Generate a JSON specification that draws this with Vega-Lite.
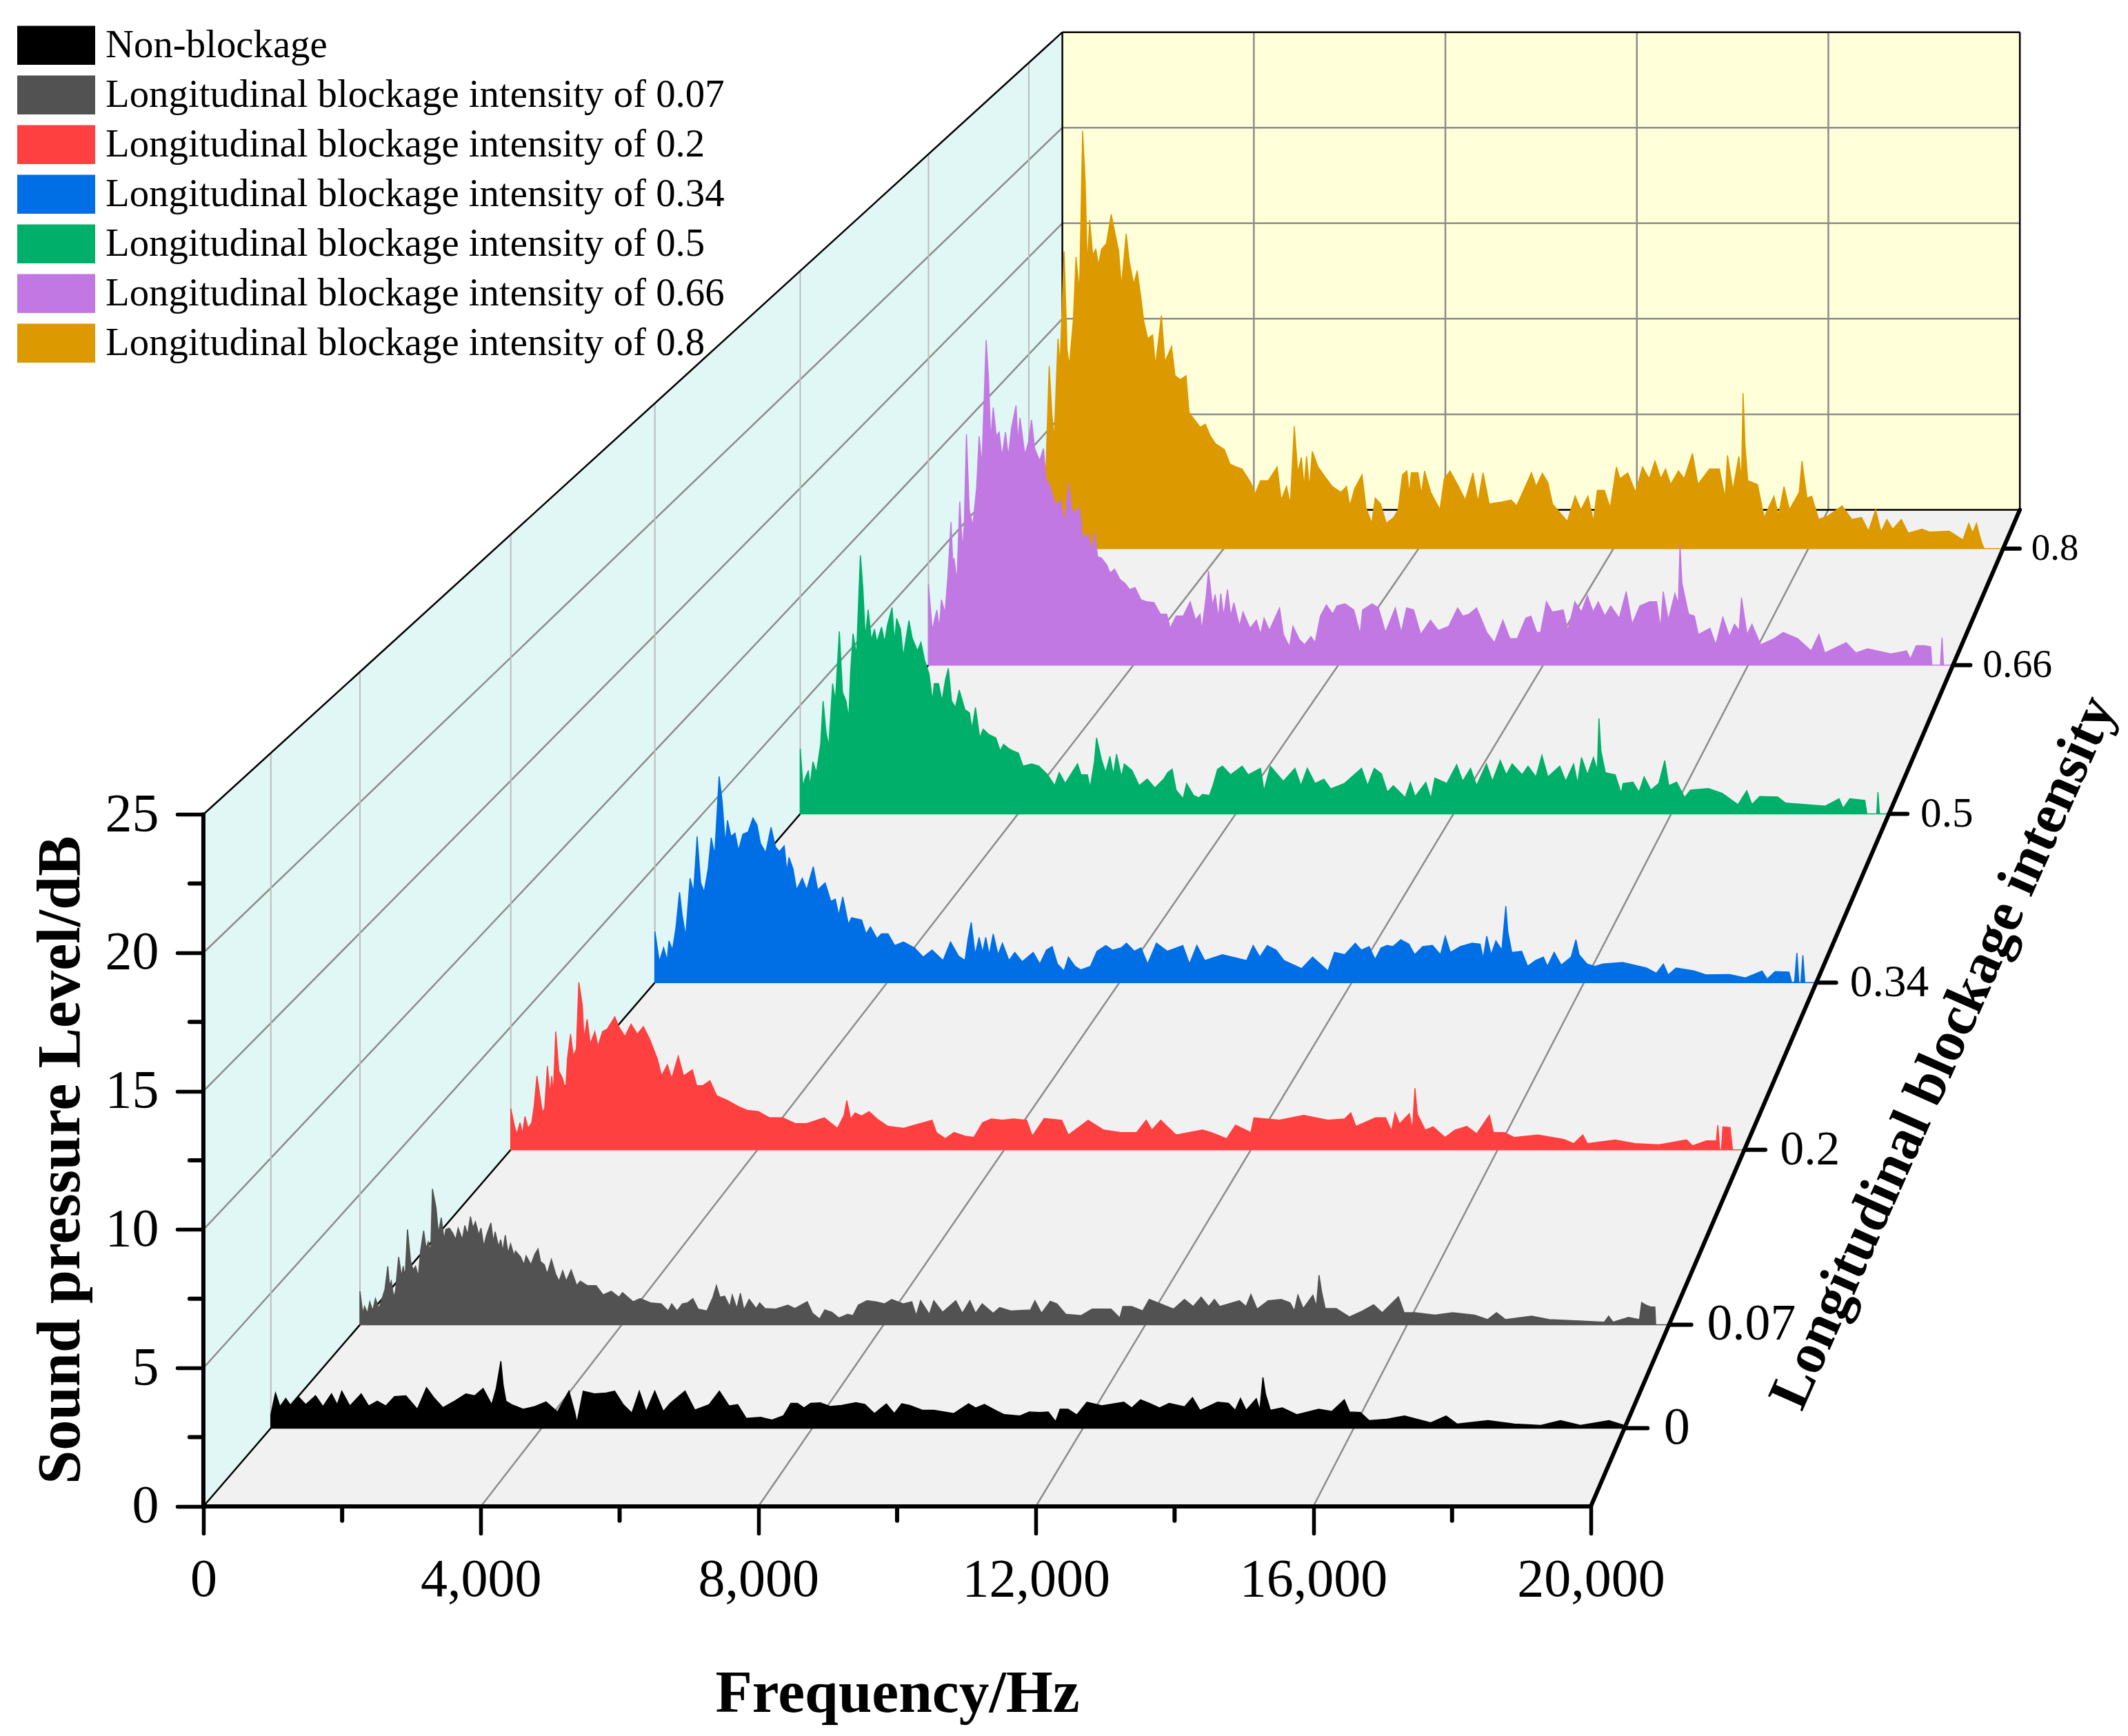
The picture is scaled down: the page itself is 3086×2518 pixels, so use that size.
{"$schema":"https://vega.github.io/schema/vega-lite/v6.json","width":3086,"height":2518,"padding":0,"autosize":{"type":"none"},"background":"white","config":{"font":"Liberation Serif","view":{"stroke":null}},
"datasets":{
"spectra":[
{"i":0.8,"f":0,"v":5},{"i":0.8,"f":40,"v":2},{"i":0.8,"f":90,"v":3.5},{"i":0.8,"f":150,"v":2.5},{"i":0.8,"f":210,"v":4},{"i":0.8,"f":280,"v":3},{"i":0.8,"f":354,"v":4.3},{"i":0.8,"f":417,"v":9.4},{"i":0.8,"f":471,"v":7},{"i":0.8,"f":520,"v":5.6},{"i":0.8,"f":598,"v":10.8},{"i":0.8,"f":640,"v":9.4},{"i":0.8,"f":724,"v":15.3},{"i":0.8,"f":786,"v":10.2},{"i":0.8,"f":830,"v":9.4},{"i":0.8,"f":914,"v":11.8},{"i":0.8,"f":968,"v":15},{"i":0.8,"f":1040,"v":13.2},{"i":0.8,"f":1104,"v":21.5},{"i":0.8,"f":1158,"v":18.8},{"i":0.8,"f":1200,"v":14.5},{"i":0.8,"f":1248,"v":16.9},{"i":0.8,"f":1311,"v":15.1},{"i":0.8,"f":1374,"v":15.4},{"i":0.8,"f":1430,"v":14.6},{"i":0.8,"f":1492,"v":15.4},{"i":0.8,"f":1592,"v":15.7},{"i":0.8,"f":1691,"v":17.2},{"i":0.8,"f":1754,"v":16.4},{"i":0.8,"f":1844,"v":15.3},{"i":0.8,"f":1900,"v":13.5},{"i":0.8,"f":1998,"v":16.2},{"i":0.8,"f":2061,"v":14.8},{"i":0.8,"f":2152,"v":13.6},{"i":0.8,"f":2224,"v":14.3},{"i":0.8,"f":2296,"v":13},{"i":0.8,"f":2359,"v":11.7},{"i":0.8,"f":2441,"v":10.8},{"i":0.8,"f":2540,"v":11},{"i":0.8,"f":2600,"v":9.4},{"i":0.8,"f":2721,"v":12},{"i":0.8,"f":2794,"v":9.6},{"i":0.8,"f":2929,"v":10.4},{"i":0.8,"f":3000,"v":8.9},{"i":0.8,"f":3109,"v":8.7},{"i":0.8,"f":3227,"v":8.9},{"i":0.8,"f":3289,"v":7},{"i":0.8,"f":3380,"v":6.7},{"i":0.8,"f":3516,"v":6.25},{"i":0.8,"f":3624,"v":6.4},{"i":0.8,"f":3724,"v":5.8},{"i":0.8,"f":3832,"v":5.4},{"i":0.8,"f":4013,"v":5.1},{"i":0.8,"f":4130,"v":4.35},{"i":0.8,"f":4266,"v":4.2},{"i":0.8,"f":4374,"v":4.1},{"i":0.8,"f":4554,"v":3.4},{"i":0.8,"f":4645,"v":2.8},{"i":0.8,"f":4754,"v":3.5},{"i":0.8,"f":4916,"v":3.5},{"i":0.8,"f":5097,"v":4.2},{"i":0.8,"f":5180,"v":2.5},{"i":0.8,"f":5290,"v":3.2},{"i":0.8,"f":5368,"v":2.3},{"i":0.8,"f":5449,"v":6.3},{"i":0.8,"f":5520,"v":3.9},{"i":0.8,"f":5594,"v":4.7},{"i":0.8,"f":5650,"v":3.2},{"i":0.8,"f":5702,"v":4.75},{"i":0.8,"f":5760,"v":3.1},{"i":0.8,"f":5819,"v":5},{"i":0.8,"f":5937,"v":4.2},{"i":0.8,"f":6108,"v":3.6},{"i":0.8,"f":6230,"v":3.2},{"i":0.8,"f":6406,"v":2.9},{"i":0.8,"f":6520,"v":3.2},{"i":0.8,"f":6590,"v":2.2},{"i":0.8,"f":6690,"v":3.1},{"i":0.8,"f":6840,"v":3.8},{"i":0.8,"f":6921,"v":2.1},{"i":0.8,"f":7039,"v":1.3},{"i":0.8,"f":7111,"v":2.6},{"i":0.8,"f":7219,"v":2.3},{"i":0.8,"f":7337,"v":1.3},{"i":0.8,"f":7490,"v":1.6},{"i":0.8,"f":7581,"v":2},{"i":0.8,"f":7671,"v":3.8},{"i":0.8,"f":7761,"v":4},{"i":0.8,"f":7810,"v":2.8},{"i":0.8,"f":7852,"v":3.9},{"i":0.8,"f":7987,"v":3.9},{"i":0.8,"f":8060,"v":2.8},{"i":0.8,"f":8123,"v":4},{"i":0.8,"f":8250,"v":2.9},{"i":0.8,"f":8439,"v":2},{"i":0.8,"f":8529,"v":3.6},{"i":0.8,"f":8647,"v":4},{"i":0.8,"f":8820,"v":3.2},{"i":0.8,"f":8960,"v":2.5},{"i":0.8,"f":9116,"v":3.9},{"i":0.8,"f":9220,"v":2.4},{"i":0.8,"f":9324,"v":3.9},{"i":0.8,"f":9450,"v":2.3},{"i":0.8,"f":9700,"v":2.4},{"i":0.8,"f":9900,"v":2.5},{"i":0.8,"f":10014,"v":2.2},{"i":0.8,"f":10318,"v":3.9},{"i":0.8,"f":10414,"v":3.2},{"i":0.8,"f":10542,"v":3.87},{"i":0.8,"f":10654,"v":3.4},{"i":0.8,"f":10750,"v":2.3},{"i":0.8,"f":11054,"v":1.4},{"i":0.8,"f":11214,"v":2.7},{"i":0.8,"f":11334,"v":2},{"i":0.8,"f":11478,"v":2.7},{"i":0.8,"f":11590,"v":1.4},{"i":0.8,"f":11670,"v":3},{"i":0.8,"f":11814,"v":3},{"i":0.8,"f":11934,"v":2.1},{"i":0.8,"f":12062,"v":4.2},{"i":0.8,"f":12134,"v":3.6},{"i":0.8,"f":12294,"v":3.9},{"i":0.8,"f":12454,"v":2.9},{"i":0.8,"f":12598,"v":4.2},{"i":0.8,"f":12734,"v":3.6},{"i":0.8,"f":12854,"v":4.5},{"i":0.8,"f":12974,"v":3.6},{"i":0.8,"f":13070,"v":4.1},{"i":0.8,"f":13174,"v":3.3},{"i":0.8,"f":13334,"v":4},{"i":0.8,"f":13454,"v":3.6},{"i":0.8,"f":13622,"v":4.9},{"i":0.8,"f":13734,"v":3.3},{"i":0.8,"f":13974,"v":4.1},{"i":0.8,"f":14174,"v":4.1},{"i":0.8,"f":14294,"v":2.6},{"i":0.8,"f":14342,"v":4.8},{"i":0.8,"f":14454,"v":3},{"i":0.8,"f":14574,"v":4.75},{"i":0.8,"f":14630,"v":3.6},{"i":0.8,"f":14662,"v":8},{"i":0.8,"f":14702,"v":5.3},{"i":0.8,"f":14758,"v":3.5},{"i":0.8,"f":14958,"v":3.3},{"i":0.8,"f":15094,"v":1.6},{"i":0.8,"f":15294,"v":2.7},{"i":0.8,"f":15390,"v":1.7},{"i":0.8,"f":15502,"v":3.2},{"i":0.8,"f":15614,"v":2},{"i":0.8,"f":15814,"v":2.9},{"i":0.8,"f":15870,"v":4.5},{"i":0.8,"f":15974,"v":2.6},{"i":0.8,"f":16070,"v":2.7},{"i":0.8,"f":16214,"v":1.5},{"i":0.8,"f":16414,"v":1.7},{"i":0.8,"f":16694,"v":2.2},{"i":0.8,"f":16894,"v":1.5},{"i":0.8,"f":17094,"v":1.6},{"i":0.8,"f":17238,"v":0.9},{"i":0.8,"f":17382,"v":2},{"i":0.8,"f":17494,"v":0.85},{"i":0.8,"f":17614,"v":1.5},{"i":0.8,"f":17734,"v":1},{"i":0.8,"f":17910,"v":1.5},{"i":0.8,"f":18054,"v":0.8},{"i":0.8,"f":18334,"v":1},{"i":0.8,"f":18494,"v":0.85},{"i":0.8,"f":18894,"v":0.9},{"i":0.8,"f":19174,"v":0.45},{"i":0.8,"f":19294,"v":1.3},{"i":0.8,"f":19374,"v":0.8},{"i":0.8,"f":19454,"v":1.3},{"i":0.8,"f":19518,"v":0.67},{"i":0.8,"f":19574,"v":0.2},{"i":0.8,"f":19614,"v":0},{"i":0.8,"f":20000,"v":0},
{"i":0.66,"f":0,"v":3.96},{"i":0.66,"f":75,"v":1.7},{"i":0.66,"f":117,"v":2.2},{"i":0.66,"f":165,"v":2.7},{"i":0.66,"f":213,"v":1.8},{"i":0.66,"f":254,"v":3.2},{"i":0.66,"f":323,"v":2.55},{"i":0.66,"f":378,"v":4.3},{"i":0.66,"f":440,"v":7},{"i":0.66,"f":474,"v":5.1},{"i":0.66,"f":500,"v":5.2},{"i":0.66,"f":556,"v":4.1},{"i":0.66,"f":611,"v":8},{"i":0.66,"f":666,"v":5.6},{"i":0.66,"f":700,"v":7},{"i":0.66,"f":742,"v":11.3},{"i":0.66,"f":797,"v":7.6},{"i":0.66,"f":865,"v":6.8},{"i":0.66,"f":941,"v":8.7},{"i":0.66,"f":989,"v":11.2},{"i":0.66,"f":1044,"v":9.8},{"i":0.66,"f":1126,"v":15.9},{"i":0.66,"f":1174,"v":14},{"i":0.66,"f":1216,"v":11},{"i":0.66,"f":1264,"v":12.6},{"i":0.66,"f":1325,"v":11.2},{"i":0.66,"f":1380,"v":11.4},{"i":0.66,"f":1435,"v":10.2},{"i":0.66,"f":1504,"v":11.4},{"i":0.66,"f":1559,"v":10.2},{"i":0.66,"f":1621,"v":11.6},{"i":0.66,"f":1710,"v":12.7},{"i":0.66,"f":1745,"v":10.9},{"i":0.66,"f":1786,"v":12.1},{"i":0.66,"f":1882,"v":10.3},{"i":0.66,"f":1951,"v":10.9},{"i":0.66,"f":2012,"v":12},{"i":0.66,"f":2074,"v":10.6},{"i":0.66,"f":2170,"v":10},{"i":0.66,"f":2246,"v":10.6},{"i":0.66,"f":2294,"v":9.1},{"i":0.66,"f":2383,"v":8.7},{"i":0.66,"f":2479,"v":7.8},{"i":0.66,"f":2569,"v":8.1},{"i":0.66,"f":2657,"v":7},{"i":0.66,"f":2740,"v":8.9},{"i":0.66,"f":2809,"v":7.4},{"i":0.66,"f":2946,"v":7.7},{"i":0.66,"f":3015,"v":6.2},{"i":0.66,"f":3118,"v":6.4},{"i":0.66,"f":3187,"v":5.6},{"i":0.66,"f":3242,"v":6.5},{"i":0.66,"f":3304,"v":5.3},{"i":0.66,"f":3372,"v":5.25},{"i":0.66,"f":3482,"v":4.9},{"i":0.66,"f":3545,"v":4.5},{"i":0.66,"f":3633,"v":4.7},{"i":0.66,"f":3737,"v":4.2},{"i":0.66,"f":3839,"v":4},{"i":0.66,"f":3929,"v":3.7},{"i":0.66,"f":4032,"v":3.8},{"i":0.66,"f":4148,"v":3.2},{"i":0.66,"f":4265,"v":3.1},{"i":0.66,"f":4402,"v":3.06},{"i":0.66,"f":4526,"v":2.5},{"i":0.66,"f":4650,"v":2.5},{"i":0.66,"f":4718,"v":1.8},{"i":0.66,"f":4835,"v":2.4},{"i":0.66,"f":4973,"v":2.4},{"i":0.66,"f":5110,"v":3.1},{"i":0.66,"f":5213,"v":2.2},{"i":0.66,"f":5302,"v":2.5},{"i":0.66,"f":5336,"v":1.7},{"i":0.66,"f":5419,"v":3.3},{"i":0.66,"f":5467,"v":4.6},{"i":0.66,"f":5542,"v":2.9},{"i":0.66,"f":5598,"v":3.45},{"i":0.66,"f":5659,"v":2.3},{"i":0.66,"f":5707,"v":3.5},{"i":0.66,"f":5762,"v":2.4},{"i":0.66,"f":5838,"v":3.7},{"i":0.66,"f":5900,"v":2.4},{"i":0.66,"f":5962,"v":3.06},{"i":0.66,"f":6072,"v":1.9},{"i":0.66,"f":6140,"v":2.6},{"i":0.66,"f":6277,"v":1.8},{"i":0.66,"f":6401,"v":2.2},{"i":0.66,"f":6483,"v":1.5},{"i":0.66,"f":6552,"v":2.3},{"i":0.66,"f":6655,"v":1.7},{"i":0.66,"f":6854,"v":2.8},{"i":0.66,"f":6930,"v":1.5},{"i":0.66,"f":7047,"v":0.9},{"i":0.66,"f":7115,"v":1.9},{"i":0.66,"f":7239,"v":1.26},{"i":0.66,"f":7342,"v":1},{"i":0.66,"f":7466,"v":1.4},{"i":0.66,"f":7548,"v":1.1},{"i":0.66,"f":7651,"v":2.4},{"i":0.66,"f":7768,"v":2.95},{"i":0.66,"f":7892,"v":2.5},{"i":0.66,"f":7974,"v":2.9},{"i":0.66,"f":8132,"v":3},{"i":0.66,"f":8304,"v":2.7},{"i":0.66,"f":8427,"v":1.5},{"i":0.66,"f":8475,"v":2.7},{"i":0.66,"f":8660,"v":3},{"i":0.66,"f":8784,"v":2.8},{"i":0.66,"f":8922,"v":1.6},{"i":0.66,"f":9114,"v":2.8},{"i":0.66,"f":9230,"v":1.6},{"i":0.66,"f":9334,"v":2.8},{"i":0.66,"f":9471,"v":2.7},{"i":0.66,"f":9609,"v":1.5},{"i":0.66,"f":9800,"v":2.2},{"i":0.66,"f":9952,"v":1.7},{"i":0.66,"f":10158,"v":1.9},{"i":0.66,"f":10330,"v":2.8},{"i":0.66,"f":10432,"v":2.4},{"i":0.66,"f":10557,"v":2.5},{"i":0.66,"f":10700,"v":2.8},{"i":0.66,"f":10900,"v":1.6},{"i":0.66,"f":11050,"v":1.1},{"i":0.66,"f":11214,"v":2.2},{"i":0.66,"f":11350,"v":1.3},{"i":0.66,"f":11494,"v":1.3},{"i":0.66,"f":11661,"v":2.3},{"i":0.66,"f":11760,"v":2.4},{"i":0.66,"f":11874,"v":1.6},{"i":0.66,"f":11950,"v":1.6},{"i":0.66,"f":12064,"v":3.1},{"i":0.66,"f":12178,"v":2.6},{"i":0.66,"f":12391,"v":2.7},{"i":0.66,"f":12482,"v":1.7},{"i":0.66,"f":12619,"v":3.1},{"i":0.66,"f":12748,"v":2.6},{"i":0.66,"f":12862,"v":3.4},{"i":0.66,"f":12976,"v":2.6},{"i":0.66,"f":13075,"v":3.1},{"i":0.66,"f":13204,"v":2.4},{"i":0.66,"f":13318,"v":2.9},{"i":0.66,"f":13485,"v":2.3},{"i":0.66,"f":13622,"v":3.6},{"i":0.66,"f":13736,"v":2},{"i":0.66,"f":13888,"v":2.9},{"i":0.66,"f":14078,"v":3.1},{"i":0.66,"f":14215,"v":3.1},{"i":0.66,"f":14291,"v":1.8},{"i":0.66,"f":14344,"v":3.6},{"i":0.66,"f":14443,"v":2.2},{"i":0.66,"f":14572,"v":3.5},{"i":0.66,"f":14640,"v":3},{"i":0.66,"f":14671,"v":5.9},{"i":0.66,"f":14709,"v":4},{"i":0.66,"f":14838,"v":2.5},{"i":0.66,"f":14952,"v":2.4},{"i":0.66,"f":15028,"v":1.5},{"i":0.66,"f":15256,"v":1.8},{"i":0.66,"f":15370,"v":1},{"i":0.66,"f":15507,"v":2.35},{"i":0.66,"f":15636,"v":1.4},{"i":0.66,"f":15735,"v":2},{"i":0.66,"f":15826,"v":1.7},{"i":0.66,"f":15872,"v":3.3},{"i":0.66,"f":15978,"v":1.5},{"i":0.66,"f":16077,"v":2},{"i":0.66,"f":16244,"v":1},{"i":0.66,"f":16510,"v":1.3},{"i":0.66,"f":16685,"v":1.6},{"i":0.66,"f":16966,"v":1.3},{"i":0.66,"f":17232,"v":0.7},{"i":0.66,"f":17384,"v":1.5},{"i":0.66,"f":17498,"v":0.6},{"i":0.66,"f":17916,"v":1.1},{"i":0.66,"f":18106,"v":0.6},{"i":0.66,"f":18334,"v":0.8},{"i":0.66,"f":18790,"v":0.55},{"i":0.66,"f":19094,"v":0.7},{"i":0.66,"f":19170,"v":0.3},{"i":0.66,"f":19284,"v":0.95},{"i":0.66,"f":19436,"v":0.95},{"i":0.66,"f":19565,"v":0.9},{"i":0.66,"f":19588,"v":0},{"i":0.66,"f":19755,"v":0},{"i":0.66,"f":19786,"v":1.35},{"i":0.66,"f":19816,"v":0},{"i":0.66,"f":20000,"v":0},
{"i":0.5,"f":0,"v":3},{"i":0.5,"f":52,"v":1.2},{"i":0.5,"f":84,"v":1.6},{"i":0.5,"f":149,"v":2},{"i":0.5,"f":181,"v":1.27},{"i":0.5,"f":233,"v":2.4},{"i":0.5,"f":297,"v":1.9},{"i":0.5,"f":375,"v":3.2},{"i":0.5,"f":420,"v":5.2},{"i":0.5,"f":472,"v":3.8},{"i":0.5,"f":524,"v":3.1},{"i":0.5,"f":595,"v":6},{"i":0.5,"f":646,"v":5.2},{"i":0.5,"f":718,"v":8.4},{"i":0.5,"f":776,"v":5.6},{"i":0.5,"f":840,"v":5.2},{"i":0.5,"f":892,"v":4.4},{"i":0.5,"f":924,"v":6.45},{"i":0.5,"f":970,"v":8.3},{"i":0.5,"f":1034,"v":7.3},{"i":0.5,"f":1105,"v":11.9},{"i":0.5,"f":1150,"v":10.4},{"i":0.5,"f":1196,"v":8.1},{"i":0.5,"f":1248,"v":9.4},{"i":0.5,"f":1306,"v":8},{"i":0.5,"f":1364,"v":8.5},{"i":0.5,"f":1409,"v":7.9},{"i":0.5,"f":1493,"v":8.6},{"i":0.5,"f":1551,"v":7.9},{"i":0.5,"f":1603,"v":8.7},{"i":0.5,"f":1687,"v":9.5},{"i":0.5,"f":1732,"v":7.9},{"i":0.5,"f":1771,"v":9},{"i":0.5,"f":1842,"v":8.5},{"i":0.5,"f":1894,"v":7.2},{"i":0.5,"f":1926,"v":7.8},{"i":0.5,"f":1997,"v":8.9},{"i":0.5,"f":2056,"v":8.1},{"i":0.5,"f":2153,"v":7.5},{"i":0.5,"f":2217,"v":7.9},{"i":0.5,"f":2282,"v":7.1},{"i":0.5,"f":2366,"v":6.45},{"i":0.5,"f":2430,"v":5.2},{"i":0.5,"f":2463,"v":6},{"i":0.5,"f":2540,"v":6},{"i":0.5,"f":2605,"v":5.2},{"i":0.5,"f":2670,"v":6.2},{"i":0.5,"f":2721,"v":6.7},{"i":0.5,"f":2780,"v":5.2},{"i":0.5,"f":2851,"v":4.9},{"i":0.5,"f":2921,"v":5.7},{"i":0.5,"f":3025,"v":4.8},{"i":0.5,"f":3109,"v":4.65},{"i":0.5,"f":3155,"v":3.9},{"i":0.5,"f":3219,"v":4.9},{"i":0.5,"f":3297,"v":3.5},{"i":0.5,"f":3361,"v":3.9},{"i":0.5,"f":3465,"v":3.65},{"i":0.5,"f":3594,"v":3.5},{"i":0.5,"f":3672,"v":2.9},{"i":0.5,"f":3736,"v":3.2},{"i":0.5,"f":3833,"v":3},{"i":0.5,"f":3911,"v":2.9},{"i":0.5,"f":4008,"v":2.8},{"i":0.5,"f":4092,"v":2.2},{"i":0.5,"f":4253,"v":2.3},{"i":0.5,"f":4383,"v":2.2},{"i":0.5,"f":4544,"v":1.8},{"i":0.5,"f":4674,"v":1.3},{"i":0.5,"f":4758,"v":1.9},{"i":0.5,"f":4868,"v":1.4},{"i":0.5,"f":5016,"v":2},{"i":0.5,"f":5094,"v":2.3},{"i":0.5,"f":5158,"v":1.8},{"i":0.5,"f":5275,"v":1.8},{"i":0.5,"f":5326,"v":1.2},{"i":0.5,"f":5404,"v":2.4},{"i":0.5,"f":5443,"v":3.5},{"i":0.5,"f":5533,"v":2.5},{"i":0.5,"f":5611,"v":1.9},{"i":0.5,"f":5689,"v":2.65},{"i":0.5,"f":5753,"v":1.8},{"i":0.5,"f":5811,"v":2.75},{"i":0.5,"f":5902,"v":1.7},{"i":0.5,"f":5953,"v":2.3},{"i":0.5,"f":6095,"v":2},{"i":0.5,"f":6225,"v":1.3},{"i":0.5,"f":6374,"v":1.6},{"i":0.5,"f":6516,"v":1.2},{"i":0.5,"f":6677,"v":1.6},{"i":0.5,"f":6749,"v":1.9},{"i":0.5,"f":6833,"v":2.06},{"i":0.5,"f":6904,"v":1.1},{"i":0.5,"f":7033,"v":0.7},{"i":0.5,"f":7098,"v":1.4},{"i":0.5,"f":7227,"v":0.85},{"i":0.5,"f":7324,"v":0.74},{"i":0.5,"f":7389,"v":0.9},{"i":0.5,"f":7518,"v":0.85},{"i":0.5,"f":7582,"v":1.3},{"i":0.5,"f":7667,"v":2.06},{"i":0.5,"f":7757,"v":2.2},{"i":0.5,"f":7906,"v":1.8},{"i":0.5,"f":8119,"v":2.2},{"i":0.5,"f":8229,"v":1.8},{"i":0.5,"f":8455,"v":2.1},{"i":0.5,"f":8520,"v":1.06},{"i":0.5,"f":8636,"v":2.2},{"i":0.5,"f":8875,"v":1.5},{"i":0.5,"f":9088,"v":2.1},{"i":0.5,"f":9198,"v":1.3},{"i":0.5,"f":9315,"v":2.1},{"i":0.5,"f":9457,"v":1.4},{"i":0.5,"f":9619,"v":1.6},{"i":0.5,"f":9748,"v":1.15},{"i":0.5,"f":9994,"v":1.4},{"i":0.5,"f":10312,"v":2.1},{"i":0.5,"f":10422,"v":1.3},{"i":0.5,"f":10545,"v":2.1},{"i":0.5,"f":10676,"v":1.85},{"i":0.5,"f":10786,"v":1},{"i":0.5,"f":10895,"v":1.3},{"i":0.5,"f":11113,"v":0.75},{"i":0.5,"f":11208,"v":1.45},{"i":0.5,"f":11295,"v":0.8},{"i":0.5,"f":11492,"v":1.45},{"i":0.5,"f":11586,"v":0.7},{"i":0.5,"f":11659,"v":1.65},{"i":0.5,"f":11878,"v":1.4},{"i":0.5,"f":12060,"v":2.27},{"i":0.5,"f":12169,"v":1.5},{"i":0.5,"f":12314,"v":2.1},{"i":0.5,"f":12424,"v":1.3},{"i":0.5,"f":12606,"v":2.3},{"i":0.5,"f":12715,"v":1.5},{"i":0.5,"f":12860,"v":2.46},{"i":0.5,"f":12970,"v":1.8},{"i":0.5,"f":13079,"v":2.3},{"i":0.5,"f":13261,"v":1.8},{"i":0.5,"f":13370,"v":2.2},{"i":0.5,"f":13516,"v":1.7},{"i":0.5,"f":13625,"v":2.7},{"i":0.5,"f":13734,"v":1.7},{"i":0.5,"f":13952,"v":2.2},{"i":0.5,"f":14062,"v":1.5},{"i":0.5,"f":14207,"v":2.3},{"i":0.5,"f":14280,"v":1.4},{"i":0.5,"f":14353,"v":2.6},{"i":0.5,"f":14462,"v":1.8},{"i":0.5,"f":14571,"v":2.6},{"i":0.5,"f":14644,"v":2},{"i":0.5,"f":14673,"v":4.4},{"i":0.5,"f":14709,"v":2.9},{"i":0.5,"f":14790,"v":1.9},{"i":0.5,"f":14972,"v":1.8},{"i":0.5,"f":15081,"v":0.95},{"i":0.5,"f":15117,"v":1.4},{"i":0.5,"f":15299,"v":1.46},{"i":0.5,"f":15408,"v":1},{"i":0.5,"f":15503,"v":1.7},{"i":0.5,"f":15627,"v":1.1},{"i":0.5,"f":15772,"v":1.4},{"i":0.5,"f":15882,"v":2.46},{"i":0.5,"f":15955,"v":1.3},{"i":0.5,"f":16100,"v":1.46},{"i":0.5,"f":16246,"v":0.75},{"i":0.5,"f":16355,"v":1.1},{"i":0.5,"f":16682,"v":1.17},{"i":0.5,"f":16937,"v":0.95},{"i":0.5,"f":17228,"v":0.43},{"i":0.5,"f":17389,"v":1.07},{"i":0.5,"f":17483,"v":0.43},{"i":0.5,"f":17628,"v":0.8},{"i":0.5,"f":17956,"v":0.78},{"i":0.5,"f":18102,"v":0.5},{"i":0.5,"f":18466,"v":0.43},{"i":0.5,"f":18830,"v":0.36},{"i":0.5,"f":19085,"v":0.7},{"i":0.5,"f":19158,"v":0.26},{"i":0.5,"f":19281,"v":0.7},{"i":0.5,"f":19558,"v":0.62},{"i":0.5,"f":19595,"v":0},{"i":0.5,"f":19776,"v":0},{"i":0.5,"f":19798,"v":1},{"i":0.5,"f":19827,"v":0},{"i":0.5,"f":20000,"v":0},
{"i":0.34,"f":0,"v":2.2},{"i":0.34,"f":76,"v":0.9},{"i":0.34,"f":150,"v":1.5},{"i":0.34,"f":212,"v":0.95},{"i":0.34,"f":242,"v":1.8},{"i":0.34,"f":303,"v":1.4},{"i":0.34,"f":364,"v":2.4},{"i":0.34,"f":424,"v":3.9},{"i":0.34,"f":470,"v":2.9},{"i":0.34,"f":530,"v":2},{"i":0.34,"f":606,"v":4.5},{"i":0.34,"f":667,"v":3.9},{"i":0.34,"f":727,"v":6.3},{"i":0.34,"f":788,"v":4.3},{"i":0.34,"f":848,"v":3.9},{"i":0.34,"f":917,"v":4.9},{"i":0.34,"f":970,"v":6.25},{"i":0.34,"f":1030,"v":5.5},{"i":0.34,"f":1106,"v":8.9},{"i":0.34,"f":1159,"v":7.8},{"i":0.34,"f":1212,"v":6},{"i":0.34,"f":1250,"v":7},{"i":0.34,"f":1310,"v":6.3},{"i":0.34,"f":1379,"v":6.45},{"i":0.34,"f":1439,"v":5.7},{"i":0.34,"f":1515,"v":6.4},{"i":0.34,"f":1606,"v":6.5},{"i":0.34,"f":1689,"v":7.1},{"i":0.34,"f":1758,"v":6.8},{"i":0.34,"f":1818,"v":6},{"i":0.34,"f":1909,"v":5.6},{"i":0.34,"f":2000,"v":6.7},{"i":0.34,"f":2076,"v":5.85},{"i":0.34,"f":2144,"v":5.65},{"i":0.34,"f":2227,"v":5.9},{"i":0.34,"f":2273,"v":4.8},{"i":0.34,"f":2310,"v":5.4},{"i":0.34,"f":2379,"v":4.9},{"i":0.34,"f":2439,"v":4},{"i":0.34,"f":2538,"v":4.5},{"i":0.34,"f":2614,"v":4},{"i":0.34,"f":2727,"v":5},{"i":0.34,"f":2803,"v":4},{"i":0.34,"f":2932,"v":4.3},{"i":0.34,"f":3030,"v":3.5},{"i":0.34,"f":3106,"v":3.6},{"i":0.34,"f":3167,"v":2.9},{"i":0.34,"f":3235,"v":3.7},{"i":0.34,"f":3333,"v":2.5},{"i":0.34,"f":3386,"v":2.8},{"i":0.34,"f":3560,"v":2.7},{"i":0.34,"f":3636,"v":2.1},{"i":0.34,"f":3712,"v":2.4},{"i":0.34,"f":3826,"v":1.9},{"i":0.34,"f":3901,"v":2.1},{"i":0.34,"f":4015,"v":2.1},{"i":0.34,"f":4129,"v":1.6},{"i":0.34,"f":4280,"v":1.75},{"i":0.34,"f":4470,"v":1.5},{"i":0.34,"f":4621,"v":1.1},{"i":0.34,"f":4773,"v":1.4},{"i":0.34,"f":4962,"v":0.95},{"i":0.34,"f":5091,"v":1.75},{"i":0.34,"f":5227,"v":1.15},{"i":0.34,"f":5341,"v":0.95},{"i":0.34,"f":5394,"v":1.9},{"i":0.34,"f":5447,"v":2.6},{"i":0.34,"f":5515,"v":1.2},{"i":0.34,"f":5583,"v":1.95},{"i":0.34,"f":5644,"v":1.3},{"i":0.34,"f":5697,"v":1.95},{"i":0.34,"f":5758,"v":1.2},{"i":0.34,"f":5826,"v":2.1},{"i":0.34,"f":5909,"v":1.2},{"i":0.34,"f":5985,"v":1.7},{"i":0.34,"f":6098,"v":0.95},{"i":0.34,"f":6197,"v":1.3},{"i":0.34,"f":6326,"v":0.9},{"i":0.34,"f":6515,"v":1.3},{"i":0.34,"f":6629,"v":0.8},{"i":0.34,"f":6742,"v":1.4},{"i":0.34,"f":6841,"v":1.55},{"i":0.34,"f":6932,"v":0.8},{"i":0.34,"f":7045,"v":0.5},{"i":0.34,"f":7121,"v":1.1},{"i":0.34,"f":7235,"v":0.7},{"i":0.34,"f":7333,"v":0.55},{"i":0.34,"f":7500,"v":0.7},{"i":0.34,"f":7614,"v":1.35},{"i":0.34,"f":7765,"v":1.6},{"i":0.34,"f":7879,"v":1.4},{"i":0.34,"f":8030,"v":1.5},{"i":0.34,"f":8121,"v":1.7},{"i":0.34,"f":8258,"v":1.35},{"i":0.34,"f":8371,"v":1.5},{"i":0.34,"f":8485,"v":0.8},{"i":0.34,"f":8636,"v":1.7},{"i":0.34,"f":8826,"v":1.35},{"i":0.34,"f":9091,"v":1.6},{"i":0.34,"f":9205,"v":0.8},{"i":0.34,"f":9333,"v":1.6},{"i":0.34,"f":9470,"v":0.95},{"i":0.34,"f":9773,"v":1.2},{"i":0.34,"f":10189,"v":0.95},{"i":0.34,"f":10303,"v":1.6},{"i":0.34,"f":10417,"v":1.1},{"i":0.34,"f":10545,"v":1.6},{"i":0.34,"f":10697,"v":1.4},{"i":0.34,"f":10833,"v":0.95},{"i":0.34,"f":11136,"v":0.6},{"i":0.34,"f":11326,"v":1.1},{"i":0.34,"f":11591,"v":0.5},{"i":0.34,"f":11704,"v":1.3},{"i":0.34,"f":11879,"v":1.2},{"i":0.34,"f":12061,"v":1.7},{"i":0.34,"f":12164,"v":1.4},{"i":0.34,"f":12300,"v":1.55},{"i":0.34,"f":12402,"v":1},{"i":0.34,"f":12505,"v":1.5},{"i":0.34,"f":12607,"v":1.6},{"i":0.34,"f":12709,"v":1.55},{"i":0.34,"f":12846,"v":1.85},{"i":0.34,"f":12982,"v":1.66},{"i":0.34,"f":13084,"v":1.2},{"i":0.34,"f":13221,"v":1.55},{"i":0.34,"f":13391,"v":1.6},{"i":0.34,"f":13528,"v":1.2},{"i":0.34,"f":13610,"v":2},{"i":0.34,"f":13698,"v":1.3},{"i":0.34,"f":13868,"v":1.55},{"i":0.34,"f":14073,"v":1.7},{"i":0.34,"f":14210,"v":1.66},{"i":0.34,"f":14264,"v":1.05},{"i":0.34,"f":14325,"v":2},{"i":0.34,"f":14400,"v":1.2},{"i":0.34,"f":14482,"v":1.8},{"i":0.34,"f":14585,"v":1.4},{"i":0.34,"f":14653,"v":3.3},{"i":0.34,"f":14687,"v":2.2},{"i":0.34,"f":14755,"v":1.3},{"i":0.34,"f":14926,"v":1.35},{"i":0.34,"f":15028,"v":0.7},{"i":0.34,"f":15164,"v":0.95},{"i":0.34,"f":15301,"v":1.1},{"i":0.34,"f":15369,"v":0.7},{"i":0.34,"f":15485,"v":1.3},{"i":0.34,"f":15608,"v":0.75},{"i":0.34,"f":15778,"v":1.1},{"i":0.34,"f":15860,"v":1.85},{"i":0.34,"f":15914,"v":1.2},{"i":0.34,"f":16051,"v":0.8},{"i":0.34,"f":16187,"v":0.7},{"i":0.34,"f":16324,"v":0.8},{"i":0.34,"f":16665,"v":0.87},{"i":0.34,"f":17074,"v":0.63},{"i":0.34,"f":17245,"v":0.4},{"i":0.34,"f":17367,"v":0.8},{"i":0.34,"f":17449,"v":0.33},{"i":0.34,"f":17585,"v":0.63},{"i":0.34,"f":17893,"v":0.5},{"i":0.34,"f":18097,"v":0.33},{"i":0.34,"f":18506,"v":0.35},{"i":0.34,"f":18779,"v":0.2},{"i":0.34,"f":19065,"v":0.5},{"i":0.34,"f":19154,"v":0.15},{"i":0.34,"f":19290,"v":0.47},{"i":0.34,"f":19529,"v":0.45},{"i":0.34,"f":19577,"v":0},{"i":0.34,"f":19625,"v":0.03},{"i":0.34,"f":19666,"v":1.28},{"i":0.34,"f":19700,"v":0},{"i":0.34,"f":19734,"v":0},{"i":0.34,"f":19768,"v":1.18},{"i":0.34,"f":19802,"v":0},{"i":0.34,"f":20000,"v":0},
{"i":0.2,"f":0,"v":1.67},{"i":0.2,"f":65,"v":0.9},{"i":0.2,"f":100,"v":0.65},{"i":0.2,"f":150,"v":1.1},{"i":0.2,"f":190,"v":0.65},{"i":0.2,"f":230,"v":1.35},{"i":0.2,"f":280,"v":0.87},{"i":0.2,"f":340,"v":1.1},{"i":0.2,"f":380,"v":1.8},{"i":0.2,"f":424,"v":3},{"i":0.2,"f":474,"v":2.15},{"i":0.2,"f":514,"v":1.5},{"i":0.2,"f":550,"v":1.7},{"i":0.2,"f":594,"v":3.4},{"i":0.2,"f":640,"v":2.25},{"i":0.2,"f":664,"v":3},{"i":0.2,"f":689,"v":2.25},{"i":0.2,"f":729,"v":4.8},{"i":0.2,"f":779,"v":3.2},{"i":0.2,"f":839,"v":2.9},{"i":0.2,"f":889,"v":2.4},{"i":0.2,"f":919,"v":3.7},{"i":0.2,"f":969,"v":4.7},{"i":0.2,"f":1014,"v":3.8},{"i":0.2,"f":1063,"v":4.1},{"i":0.2,"f":1103,"v":6.8},{"i":0.2,"f":1158,"v":5.9},{"i":0.2,"f":1188,"v":4.5},{"i":0.2,"f":1238,"v":5.3},{"i":0.2,"f":1288,"v":4.3},{"i":0.2,"f":1363,"v":4.8},{"i":0.2,"f":1413,"v":4.2},{"i":0.2,"f":1488,"v":4.8},{"i":0.2,"f":1563,"v":4.9},{"i":0.2,"f":1687,"v":5.4},{"i":0.2,"f":1750,"v":5},{"i":0.2,"f":1850,"v":4.6},{"i":0.2,"f":1950,"v":5.1},{"i":0.2,"f":2050,"v":4.7},{"i":0.2,"f":2150,"v":5},{"i":0.2,"f":2250,"v":4.5},{"i":0.2,"f":2374,"v":3.7},{"i":0.2,"f":2445,"v":3},{"i":0.2,"f":2538,"v":3.45},{"i":0.2,"f":2609,"v":2.9},{"i":0.2,"f":2716,"v":3.8},{"i":0.2,"f":2801,"v":3},{"i":0.2,"f":2944,"v":3.25},{"i":0.2,"f":3015,"v":2.6},{"i":0.2,"f":3108,"v":2.6},{"i":0.2,"f":3229,"v":2.8},{"i":0.2,"f":3336,"v":2.2},{"i":0.2,"f":3514,"v":2},{"i":0.2,"f":3693,"v":1.75},{"i":0.2,"f":3835,"v":1.6},{"i":0.2,"f":4014,"v":1.55},{"i":0.2,"f":4192,"v":1.3},{"i":0.2,"f":4406,"v":1.3},{"i":0.2,"f":4620,"v":1.06},{"i":0.2,"f":4798,"v":1.06},{"i":0.2,"f":5083,"v":1.3},{"i":0.2,"f":5297,"v":0.87},{"i":0.2,"f":5404,"v":1.4},{"i":0.2,"f":5447,"v":2},{"i":0.2,"f":5511,"v":1.25},{"i":0.2,"f":5582,"v":1.5},{"i":0.2,"f":5689,"v":1.37},{"i":0.2,"f":5810,"v":1.55},{"i":0.2,"f":5939,"v":1.25},{"i":0.2,"f":6117,"v":0.95},{"i":0.2,"f":6367,"v":0.87},{"i":0.2,"f":6545,"v":1},{"i":0.2,"f":6830,"v":1.2},{"i":0.2,"f":6901,"v":0.7},{"i":0.2,"f":7044,"v":0.45},{"i":0.2,"f":7186,"v":0.7},{"i":0.2,"f":7365,"v":0.55},{"i":0.2,"f":7507,"v":0.5},{"i":0.2,"f":7650,"v":1.1},{"i":0.2,"f":7792,"v":1.25},{"i":0.2,"f":7971,"v":1.2},{"i":0.2,"f":8149,"v":1.25},{"i":0.2,"f":8363,"v":1.2},{"i":0.2,"f":8456,"v":0.55},{"i":0.2,"f":8648,"v":1.27},{"i":0.2,"f":8933,"v":1.2},{"i":0.2,"f":9040,"v":0.6},{"i":0.2,"f":9361,"v":1.2},{"i":0.2,"f":9611,"v":0.8},{"i":0.2,"f":9896,"v":0.7},{"i":0.2,"f":10146,"v":0.7},{"i":0.2,"f":10302,"v":1.2},{"i":0.2,"f":10395,"v":0.8},{"i":0.2,"f":10538,"v":1.2},{"i":0.2,"f":10787,"v":0.6},{"i":0.2,"f":11215,"v":0.8},{"i":0.2,"f":11357,"v":0.7},{"i":0.2,"f":11607,"v":0.45},{"i":0.2,"f":11750,"v":1},{"i":0.2,"f":12000,"v":0.7},{"i":0.2,"f":12049,"v":1.3},{"i":0.2,"f":12463,"v":1.2},{"i":0.2,"f":12855,"v":1.4},{"i":0.2,"f":13247,"v":1.2},{"i":0.2,"f":13518,"v":1.25},{"i":0.2,"f":13619,"v":1.5},{"i":0.2,"f":13702,"v":0.95},{"i":0.2,"f":14023,"v":1.3},{"i":0.2,"f":14184,"v":1.3},{"i":0.2,"f":14280,"v":0.77},{"i":0.2,"f":14338,"v":1.5},{"i":0.2,"f":14409,"v":1.05},{"i":0.2,"f":14569,"v":1.47},{"i":0.2,"f":14620,"v":0.82},{"i":0.2,"f":14659,"v":2.5},{"i":0.2,"f":14697,"v":1.45},{"i":0.2,"f":14826,"v":0.8},{"i":0.2,"f":14954,"v":0.93},{"i":0.2,"f":15147,"v":0.5},{"i":0.2,"f":15307,"v":0.8},{"i":0.2,"f":15500,"v":0.95},{"i":0.2,"f":15660,"v":0.65},{"i":0.2,"f":15866,"v":1.4},{"i":0.2,"f":15930,"v":0.7},{"i":0.2,"f":16110,"v":0.7},{"i":0.2,"f":16270,"v":0.5},{"i":0.2,"f":16655,"v":0.6},{"i":0.2,"f":17073,"v":0.42},{"i":0.2,"f":17233,"v":0.25},{"i":0.2,"f":17381,"v":0.6},{"i":0.2,"f":17458,"v":0.25},{"i":0.2,"f":17907,"v":0.4},{"i":0.2,"f":18228,"v":0.25},{"i":0.2,"f":18614,"v":0.2},{"i":0.2,"f":19063,"v":0.4},{"i":0.2,"f":19160,"v":0.16},{"i":0.2,"f":19384,"v":0.36},{"i":0.2,"f":19545,"v":0.36},{"i":0.2,"f":19570,"v":1},{"i":0.2,"f":19602,"v":0},{"i":0.2,"f":19628,"v":0},{"i":0.2,"f":19653,"v":0.93},{"i":0.2,"f":19769,"v":0.9},{"i":0.2,"f":19808,"v":0},{"i":0.2,"f":20000,"v":0},
{"i":0.07,"f":0,"v":1.28},{"i":0.07,"f":43,"v":0.44},{"i":0.07,"f":70,"v":0.7},{"i":0.07,"f":113,"v":0.44},{"i":0.07,"f":150,"v":0.88},{"i":0.07,"f":194,"v":0.53},{"i":0.07,"f":236,"v":1},{"i":0.07,"f":290,"v":0.62},{"i":0.07,"f":382,"v":1.36},{"i":0.07,"f":425,"v":2.24},{"i":0.07,"f":452,"v":1.5},{"i":0.07,"f":478,"v":1.67},{"i":0.07,"f":516,"v":1.05},{"i":0.07,"f":543,"v":1.3},{"i":0.07,"f":591,"v":2.6},{"i":0.07,"f":634,"v":1.85},{"i":0.07,"f":661,"v":2.24},{"i":0.07,"f":688,"v":1.75},{"i":0.07,"f":726,"v":3.65},{"i":0.07,"f":774,"v":2.42},{"i":0.07,"f":812,"v":2.1},{"i":0.07,"f":849,"v":2.24},{"i":0.07,"f":892,"v":1.85},{"i":0.07,"f":925,"v":2.8},{"i":0.07,"f":973,"v":3.6},{"i":0.07,"f":1011,"v":2.9},{"i":0.07,"f":1043,"v":3.17},{"i":0.07,"f":1081,"v":2.8},{"i":0.07,"f":1107,"v":5.2},{"i":0.07,"f":1161,"v":4.5},{"i":0.07,"f":1199,"v":3.5},{"i":0.07,"f":1242,"v":4.1},{"i":0.07,"f":1285,"v":3.26},{"i":0.07,"f":1312,"v":3.65},{"i":0.07,"f":1366,"v":3.7},{"i":0.07,"f":1419,"v":3.5},{"i":0.07,"f":1462,"v":3.26},{"i":0.07,"f":1500,"v":3.7},{"i":0.07,"f":1565,"v":3.26},{"i":0.07,"f":1602,"v":3.8},{"i":0.07,"f":1645,"v":3.45},{"i":0.07,"f":1688,"v":4.14},{"i":0.07,"f":1726,"v":3.7},{"i":0.07,"f":1763,"v":3.94},{"i":0.07,"f":1817,"v":3.43},{"i":0.07,"f":1849,"v":3.7},{"i":0.07,"f":1892,"v":3},{"i":0.07,"f":1930,"v":3.4},{"i":0.07,"f":2000,"v":3.9},{"i":0.07,"f":2038,"v":3.17},{"i":0.07,"f":2065,"v":3.56},{"i":0.07,"f":2118,"v":2.99},{"i":0.07,"f":2150,"v":3.26},{"i":0.07,"f":2183,"v":2.82},{"i":0.07,"f":2220,"v":3.43},{"i":0.07,"f":2263,"v":2.73},{"i":0.07,"f":2301,"v":3.1},{"i":0.07,"f":2355,"v":2.64},{"i":0.07,"f":2376,"v":2.82},{"i":0.07,"f":2452,"v":2.6},{"i":0.07,"f":2505,"v":2.3},{"i":0.07,"f":2538,"v":2.64},{"i":0.07,"f":2613,"v":2.3},{"i":0.07,"f":2672,"v":2.7},{"i":0.07,"f":2720,"v":2.9},{"i":0.07,"f":2758,"v":2.42},{"i":0.07,"f":2817,"v":2.3},{"i":0.07,"f":2860,"v":1.94},{"i":0.07,"f":2925,"v":2.5},{"i":0.07,"f":2989,"v":1.94},{"i":0.07,"f":3043,"v":1.67},{"i":0.07,"f":3097,"v":2.07},{"i":0.07,"f":3151,"v":1.67},{"i":0.07,"f":3226,"v":2.1},{"i":0.07,"f":3312,"v":1.5},{"i":0.07,"f":3366,"v":1.67},{"i":0.07,"f":3473,"v":1.5},{"i":0.07,"f":3608,"v":1.5},{"i":0.07,"f":3715,"v":1.14},{"i":0.07,"f":3839,"v":1.28},{"i":0.07,"f":3957,"v":1.05},{"i":0.07,"f":4011,"v":1.23},{"i":0.07,"f":4172,"v":0.88},{"i":0.07,"f":4280,"v":1},{"i":0.07,"f":4441,"v":0.84},{"i":0.07,"f":4602,"v":0.8},{"i":0.07,"f":4710,"v":0.53},{"i":0.07,"f":4763,"v":0.8},{"i":0.07,"f":4844,"v":0.53},{"i":0.07,"f":4925,"v":0.8},{"i":0.07,"f":5005,"v":0.84},{"i":0.07,"f":5086,"v":1},{"i":0.07,"f":5167,"v":0.6},{"i":0.07,"f":5301,"v":0.53},{"i":0.07,"f":5392,"v":1.05},{"i":0.07,"f":5446,"v":1.5},{"i":0.07,"f":5500,"v":1.05},{"i":0.07,"f":5570,"v":1.1},{"i":0.07,"f":5651,"v":0.7},{"i":0.07,"f":5688,"v":1.14},{"i":0.07,"f":5758,"v":0.62},{"i":0.07,"f":5812,"v":1.2},{"i":0.07,"f":5866,"v":0.57},{"i":0.07,"f":5946,"v":0.97},{"i":0.07,"f":6054,"v":0.62},{"i":0.07,"f":6107,"v":0.84},{"i":0.07,"f":6188,"v":0.62},{"i":0.07,"f":6349,"v":0.6},{"i":0.07,"f":6538,"v":0.75},{"i":0.07,"f":6645,"v":0.62},{"i":0.07,"f":6833,"v":0.88},{"i":0.07,"f":6914,"v":0.44},{"i":0.07,"f":7022,"v":0.22},{"i":0.07,"f":7102,"v":0.57},{"i":0.07,"f":7210,"v":0.48},{"i":0.07,"f":7317,"v":0.26},{"i":0.07,"f":7451,"v":0.4},{"i":0.07,"f":7532,"v":0.35},{"i":0.07,"f":7613,"v":0.75},{"i":0.07,"f":7747,"v":0.92},{"i":0.07,"f":7882,"v":0.88},{"i":0.07,"f":8016,"v":0.8},{"i":0.07,"f":8124,"v":0.97},{"i":0.07,"f":8301,"v":0.8},{"i":0.07,"f":8431,"v":0.88},{"i":0.07,"f":8498,"v":0.35},{"i":0.07,"f":8565,"v":0.92},{"i":0.07,"f":8700,"v":0.4},{"i":0.07,"f":8767,"v":0.92},{"i":0.07,"f":8901,"v":0.48},{"i":0.07,"f":9103,"v":0.92},{"i":0.07,"f":9203,"v":0.44},{"i":0.07,"f":9318,"v":0.92},{"i":0.07,"f":9405,"v":0.44},{"i":0.07,"f":9506,"v":0.8},{"i":0.07,"f":9674,"v":0.44},{"i":0.07,"f":9774,"v":0.66},{"i":0.07,"f":9943,"v":0.53},{"i":0.07,"f":10245,"v":0.57},{"i":0.07,"f":10312,"v":0.92},{"i":0.07,"f":10413,"v":0.44},{"i":0.07,"f":10547,"v":0.9},{"i":0.07,"f":10648,"v":0.8},{"i":0.07,"f":10783,"v":0.4},{"i":0.07,"f":11018,"v":0.35},{"i":0.07,"f":11186,"v":0.6},{"i":0.07,"f":11354,"v":0.6},{"i":0.07,"f":11475,"v":0.6},{"i":0.07,"f":11609,"v":0.26},{"i":0.07,"f":11656,"v":0.7},{"i":0.07,"f":11790,"v":0.7},{"i":0.07,"f":11959,"v":0.53},{"i":0.07,"f":12059,"v":0.97},{"i":0.07,"f":12194,"v":0.84},{"i":0.07,"f":12429,"v":0.6},{"i":0.07,"f":12597,"v":0.97},{"i":0.07,"f":12731,"v":0.7},{"i":0.07,"f":12852,"v":1.06},{"i":0.07,"f":12967,"v":0.7},{"i":0.07,"f":13054,"v":0.97},{"i":0.07,"f":13135,"v":0.7},{"i":0.07,"f":13437,"v":0.92},{"i":0.07,"f":13538,"v":0.7},{"i":0.07,"f":13612,"v":1.16},{"i":0.07,"f":13706,"v":0.6},{"i":0.07,"f":13874,"v":0.92},{"i":0.07,"f":14075,"v":0.97},{"i":0.07,"f":14210,"v":0.84},{"i":0.07,"f":14277,"v":0.53},{"i":0.07,"f":14330,"v":1.14},{"i":0.07,"f":14411,"v":0.62},{"i":0.07,"f":14559,"v":1.13},{"i":0.07,"f":14613,"v":0.7},{"i":0.07,"f":14653,"v":1.9},{"i":0.07,"f":14693,"v":1.25},{"i":0.07,"f":14747,"v":0.62},{"i":0.07,"f":14915,"v":0.62},{"i":0.07,"f":15117,"v":0.3},{"i":0.07,"f":15319,"v":0.53},{"i":0.07,"f":15487,"v":0.77},{"i":0.07,"f":15618,"v":0.46},{"i":0.07,"f":15866,"v":1.07},{"i":0.07,"f":15953,"v":0.46},{"i":0.07,"f":16121,"v":0.46},{"i":0.07,"f":16424,"v":0.37},{"i":0.07,"f":16693,"v":0.46},{"i":0.07,"f":17029,"v":0.37},{"i":0.07,"f":17230,"v":0.2},{"i":0.07,"f":17365,"v":0.46},{"i":0.07,"f":17499,"v":0.2},{"i":0.07,"f":17902,"v":0.33},{"i":0.07,"f":18171,"v":0.2},{"i":0.07,"f":18574,"v":0.15},{"i":0.07,"f":19011,"v":0.1},{"i":0.07,"f":19078,"v":0.33},{"i":0.07,"f":19145,"v":0.1},{"i":0.07,"f":19381,"v":0.28},{"i":0.07,"f":19549,"v":0.2},{"i":0.07,"f":19582,"v":0.85},{"i":0.07,"f":19636,"v":0.77},{"i":0.07,"f":19717,"v":0.68},{"i":0.07,"f":19784,"v":0.68},{"i":0.07,"f":19797,"v":0},{"i":0.07,"f":20000,"v":0},
{"i":0,"f":0,"v":0.5},{"i":0,"f":68,"v":1.3},{"i":0,"f":135,"v":0.8},{"i":0,"f":220,"v":1.1},{"i":0,"f":304,"v":0.8},{"i":0,"f":405,"v":1.17},{"i":0,"f":515,"v":0.87},{"i":0,"f":660,"v":1.2},{"i":0,"f":770,"v":0.8},{"i":0,"f":896,"v":1.27},{"i":0,"f":981,"v":0.87},{"i":0,"f":1048,"v":1.37},{"i":0,"f":1167,"v":0.82},{"i":0,"f":1335,"v":1.27},{"i":0,"f":1445,"v":0.82},{"i":0,"f":1572,"v":1},{"i":0,"f":1699,"v":0.82},{"i":0,"f":1826,"v":1.17},{"i":0,"f":1995,"v":1.2},{"i":0,"f":2164,"v":0.7},{"i":0,"f":2300,"v":1.5},{"i":0,"f":2417,"v":1.1},{"i":0,"f":2544,"v":0.76},{"i":0,"f":2713,"v":1},{"i":0,"f":2882,"v":1.27},{"i":0,"f":3009,"v":1.2},{"i":0,"f":3136,"v":1.47},{"i":0,"f":3263,"v":0.87},{"i":0,"f":3330,"v":1.47},{"i":0,"f":3398,"v":2.48},{"i":0,"f":3432,"v":1.6},{"i":0,"f":3474,"v":1},{"i":0,"f":3559,"v":0.87},{"i":0,"f":3728,"v":0.7},{"i":0,"f":3897,"v":0.8},{"i":0,"f":4066,"v":0.97},{"i":0,"f":4235,"v":0.6},{"i":0,"f":4404,"v":1.37},{"i":0,"f":4489,"v":0.6},{"i":0,"f":4522,"v":0.2},{"i":0,"f":4615,"v":1.37},{"i":0,"f":4784,"v":1.27},{"i":0,"f":4953,"v":1.3},{"i":0,"f":5080,"v":1.37},{"i":0,"f":5207,"v":0.87},{"i":0,"f":5334,"v":0.56},{"i":0,"f":5444,"v":1.37},{"i":0,"f":5545,"v":0.62},{"i":0,"f":5672,"v":1.37},{"i":0,"f":5799,"v":0.62},{"i":0,"f":5900,"v":0.92},{"i":0,"f":6120,"v":1.37},{"i":0,"f":6264,"v":0.67},{"i":0,"f":6475,"v":0.87},{"i":0,"f":6627,"v":1.37},{"i":0,"f":6771,"v":0.82},{"i":0,"f":6897,"v":0.87},{"i":0,"f":7024,"v":0.36},{"i":0,"f":7236,"v":0.4},{"i":0,"f":7405,"v":0.3},{"i":0,"f":7574,"v":0.46},{"i":0,"f":7683,"v":0.92},{"i":0,"f":7780,"v":0.92},{"i":0,"f":7878,"v":0.75},{"i":0,"f":7975,"v":0.92},{"i":0,"f":8118,"v":0.94},{"i":0,"f":8268,"v":0.8},{"i":0,"f":8430,"v":0.84},{"i":0,"f":8645,"v":0.94},{"i":0,"f":8775,"v":0.88},{"i":0,"f":8918,"v":0.54},{"i":0,"f":9094,"v":0.9},{"i":0,"f":9211,"v":0.54},{"i":0,"f":9321,"v":0.9},{"i":0,"f":9438,"v":0.84},{"i":0,"f":9633,"v":0.66},{"i":0,"f":9796,"v":0.66},{"i":0,"f":10088,"v":0.54},{"i":0,"f":10309,"v":0.9},{"i":0,"f":10413,"v":0.75},{"i":0,"f":10543,"v":0.88},{"i":0,"f":10706,"v":0.66},{"i":0,"f":10835,"v":0.5},{"i":0,"f":11063,"v":0.45},{"i":0,"f":11206,"v":0.6},{"i":0,"f":11356,"v":0.58},{"i":0,"f":11486,"v":0.6},{"i":0,"f":11596,"v":0.24},{"i":0,"f":11661,"v":0.7},{"i":0,"f":11778,"v":0.7},{"i":0,"f":11908,"v":0.49},{"i":0,"f":12058,"v":0.96},{"i":0,"f":12278,"v":0.83},{"i":0,"f":12603,"v":0.96},{"i":0,"f":12720,"v":0.75},{"i":0,"f":12850,"v":1.05},{"i":0,"f":12980,"v":0.92},{"i":0,"f":13130,"v":0.75},{"i":0,"f":13273,"v":0.92},{"i":0,"f":13500,"v":0.79},{"i":0,"f":13617,"v":1.13},{"i":0,"f":13728,"v":0.66},{"i":0,"f":13988,"v":0.96},{"i":0,"f":14150,"v":0.92},{"i":0,"f":14248,"v":0.66},{"i":0,"f":14326,"v":1.1},{"i":0,"f":14410,"v":0.66},{"i":0,"f":14560,"v":1.09},{"i":0,"f":14612,"v":0.66},{"i":0,"f":14658,"v":1.88},{"i":0,"f":14696,"v":1.26},{"i":0,"f":14768,"v":0.66},{"i":0,"f":14944,"v":0.75},{"i":0,"f":15158,"v":0.5},{"i":0,"f":15483,"v":0.7},{"i":0,"f":15678,"v":0.62},{"i":0,"f":15860,"v":1.05},{"i":0,"f":15938,"v":0.6},{"i":0,"f":16098,"v":0.58},{"i":0,"f":16228,"v":0.28},{"i":0,"f":16488,"v":0.33},{"i":0,"f":16748,"v":0.45},{"i":0,"f":17138,"v":0.2},{"i":0,"f":17365,"v":0.45},{"i":0,"f":17528,"v":0.15},{"i":0,"f":17983,"v":0.28},{"i":0,"f":18373,"v":0.15},{"i":0,"f":18763,"v":0.1},{"i":0,"f":19055,"v":0.28},{"i":0,"f":19348,"v":0.1},{"i":0,"f":19771,"v":0.28},{"i":0,"f":20000,"v":0.1}
],
"gridLines":[{"id":"a","i":-0.05,"f":4000,"v":0},{"id":"a","i":0.85,"f":4000,"v":0},{"id":"b","i":-0.05,"f":8000,"v":0},{"id":"b","i":0.85,"f":8000,"v":0},{"id":"c","i":-0.05,"f":12000,"v":0},{"id":"c","i":0.85,"f":12000,"v":0},{"id":"d","i":-0.05,"f":16000,"v":0},{"id":"d","i":0.85,"f":16000,"v":0},
{"id":"e","i":-0.05,"f":0,"v":5},{"id":"e","i":0.85,"f":0,"v":5},{"id":"g","i":-0.05,"f":0,"v":10},{"id":"g","i":0.85,"f":0,"v":10},{"id":"h","i":-0.05,"f":0,"v":15},{"id":"h","i":0.85,"f":0,"v":15},{"id":"j","i":-0.05,"f":0,"v":20},{"id":"j","i":0.85,"f":0,"v":20},
{"id":"k","i":0.85,"f":0,"v":5},{"id":"k","i":0.85,"f":20000,"v":5},{"id":"l","i":0.85,"f":0,"v":10},{"id":"l","i":0.85,"f":20000,"v":10},{"id":"m","i":0.85,"f":0,"v":15},{"id":"m","i":0.85,"f":20000,"v":15},{"id":"n","i":0.85,"f":0,"v":20},{"id":"n","i":0.85,"f":20000,"v":20},
{"id":"o","i":0.85,"f":4000,"v":0},{"id":"o","i":0.85,"f":4000,"v":25},{"id":"p","i":0.85,"f":8000,"v":0},{"id":"p","i":0.85,"f":8000,"v":25},{"id":"q","i":0.85,"f":12000,"v":0},{"id":"q","i":0.85,"f":12000,"v":25},{"id":"r","i":0.85,"f":16000,"v":0},{"id":"r","i":0.85,"f":16000,"v":25}],
"dropLines":[{"i":0,"f":0,"v":0},{"i":0,"f":0,"v":25},{"i":0.07,"f":0,"v":0},{"i":0.07,"f":0,"v":25},{"i":0.2,"f":0,"v":0},{"i":0.2,"f":0,"v":25},{"i":0.34,"f":0,"v":0},{"i":0.34,"f":0,"v":25},{"i":0.5,"f":0,"v":0},{"i":0.5,"f":0,"v":25},{"i":0.66,"f":0,"v":0},{"i":0.66,"f":0,"v":25},{"i":0.8,"f":0,"v":0},{"i":0.8,"f":0,"v":25}],
"edgeLines":[{"id":"a","i":-0.05,"f":0,"v":25},{"id":"a","i":0.85,"f":0,"v":25},{"id":"b","i":0.85,"f":0,"v":25},{"id":"b","i":0.85,"f":20000,"v":25},{"id":"c","i":0.85,"f":0,"v":0},{"id":"c","i":0.85,"f":0,"v":25},{"id":"d","i":0.85,"f":20000,"v":0},{"id":"d","i":0.85,"f":20000,"v":25},{"id":"e","i":0.85,"f":0,"v":0},{"id":"e","i":0.85,"f":20000,"v":0},{"id":"g","i":-0.05,"f":0,"v":0},{"id":"g","i":0.85,"f":0,"v":0}],
"axisLines":[{"id":"x","i":-0.05,"f":0,"v":0},{"id":"x","i":-0.05,"f":20000,"v":0},{"id":"y","i":-0.05,"f":0,"v":0},{"id":"y","i":-0.05,"f":0,"v":25},{"id":"z","i":-0.05,"f":20000,"v":0},{"id":"z","i":0.85,"f":20000,"v":0},
{"id":"t0","i":0,"f":20000,"v":0},{"id":"t0","i":0,"f":20340,"v":0},{"id":"t1","i":0.07,"f":20000,"v":0},{"id":"t1","i":0.07,"f":20340,"v":0},{"id":"t2","i":0.2,"f":20000,"v":0},{"id":"t2","i":0.2,"f":20340,"v":0},{"id":"t3","i":0.34,"f":20000,"v":0},{"id":"t3","i":0.34,"f":20340,"v":0},{"id":"t4","i":0.5,"f":20000,"v":0},{"id":"t4","i":0.5,"f":20340,"v":0},{"id":"t5","i":0.66,"f":20000,"v":0},{"id":"t5","i":0.66,"f":20340,"v":0},{"id":"t6","i":0.8,"f":20000,"v":0},{"id":"t6","i":0.8,"f":20340,"v":0},
{"id":"m1","i":-0.05,"f":2000,"v":0},{"id":"m1","i":-0.05,"f":2000,"v":-0.52},{"id":"m2","i":-0.05,"f":6000,"v":0},{"id":"m2","i":-0.05,"f":6000,"v":-0.52},{"id":"m3","i":-0.05,"f":10000,"v":0},{"id":"m3","i":-0.05,"f":10000,"v":-0.52},{"id":"m4","i":-0.05,"f":14000,"v":0},{"id":"m4","i":-0.05,"f":14000,"v":-0.52},{"id":"m5","i":-0.05,"f":18000,"v":0},{"id":"m5","i":-0.05,"f":18000,"v":-0.52},
{"id":"n1","i":-0.05,"f":0,"v":2.5},{"id":"n1","i":-0.05,"f":-199,"v":2.5},{"id":"n2","i":-0.05,"f":0,"v":7.5},{"id":"n2","i":-0.05,"f":-199,"v":7.5},{"id":"n3","i":-0.05,"f":0,"v":12.5},{"id":"n3","i":-0.05,"f":-199,"v":12.5},{"id":"n4","i":-0.05,"f":0,"v":17.5},{"id":"n4","i":-0.05,"f":-199,"v":17.5},{"id":"n5","i":-0.05,"f":0,"v":22.5},{"id":"n5","i":-0.05,"f":-199,"v":22.5}],
"depthLabels":[{"i":0,"f":20580,"v":0,"label":"0"},{"i":0.07,"f":20580,"v":0,"label":"0.07"},{"i":0.2,"f":20580,"v":0,"label":"0.2"},{"i":0.34,"f":20580,"v":0,"label":"0.34"},{"i":0.5,"f":20580,"v":0,"label":"0.5"},{"i":0.66,"f":20580,"v":0,"label":"0.66"},{"i":0.8,"f":20580,"v":0,"label":"0.8"}]
},
"layer":[
{"data":{"values":[{"i":-0.05,"f":0,"lo":0,"hi":25},{"i":0.85,"f":0,"lo":0,"hi":25}]},"transform":[{"calculate":"1/(1+0.449*(datum.i+0.05)/0.9)","as":"s"},{"calculate":"39960+(datum.f-39960)*datum.s","as":"px"},{"calculate":"116.19+(datum.hi-116.19)*datum.s","as":"py"},{"calculate":"116.19+(datum.lo-116.19)*datum.s","as":"py0"}],"mark":{"type":"area","fill":"#E0F7F5"},"encoding":{"x":{"field":"px","type":"quantitative","scale":{"domain":[-2932,27744],"nice":false,"zero":false},"axis":null},"y":{"field":"py","type":"quantitative","stack":null,"scale":{"domain":[-8.294,54.42],"nice":false,"zero":false},"axis":null},"y2":{"field":"py0"}}},
{"data":{"values":[{"i":0.85,"f":0,"lo":0,"hi":25},{"i":0.85,"f":20000,"lo":0,"hi":25}]},"transform":[{"calculate":"1/(1+0.449*(datum.i+0.05)/0.9)","as":"s"},{"calculate":"39960+(datum.f-39960)*datum.s","as":"px"},{"calculate":"116.19+(datum.hi-116.19)*datum.s","as":"py"},{"calculate":"116.19+(datum.lo-116.19)*datum.s","as":"py0"}],"mark":{"type":"area","fill":"#FFFFDA"},"encoding":{"x":{"field":"px","type":"quantitative","axis":null},"y":{"field":"py","type":"quantitative","stack":null,"axis":null},"y2":{"field":"py0"}}},
{"data":{"values":[{"i":-0.05,"lo":0,"hi":20000,"v":0},{"i":0.85,"lo":0,"hi":20000,"v":0}]},"transform":[{"calculate":"1/(1+0.449*(datum.i+0.05)/0.9)","as":"s"},{"calculate":"39960+(datum.lo-39960)*datum.s","as":"px0"},{"calculate":"39960+(datum.hi-39960)*datum.s","as":"px"},{"calculate":"116.19+(datum.v-116.19)*datum.s","as":"py"}],"mark":{"type":"area","orient":"horizontal","fill":"#F1F1F1"},"encoding":{"y":{"field":"py","type":"quantitative","axis":null},"x":{"field":"px","type":"quantitative","stack":null,"axis":null},"x2":{"field":"px0"}}},
{"data":{"name":"gridLines"},"transform":[{"calculate":"1/(1+0.449*(datum.i+0.05)/0.9)","as":"s"},{"calculate":"39960+(datum.f-39960)*datum.s","as":"px"},{"calculate":"116.19+(datum.v-116.19)*datum.s","as":"py"}],"mark":{"type":"line","stroke":"#8C8C8C","strokeWidth":2.5},"encoding":{"x":{"field":"px","type":"quantitative","axis":null},"y":{"field":"py","type":"quantitative","axis":null},"detail":{"field":"id"}}},
{"data":{"name":"dropLines"},"transform":[{"calculate":"1/(1+0.449*(datum.i+0.05)/0.9)","as":"s"},{"calculate":"39960+(datum.f-39960)*datum.s","as":"px"},{"calculate":"116.19+(datum.v-116.19)*datum.s","as":"py"}],"mark":{"type":"line","stroke":"#BDBDBD","strokeWidth":2},"encoding":{"x":{"field":"px","type":"quantitative","axis":null},"y":{"field":"py","type":"quantitative","axis":null},"detail":{"field":"i"}}},
{"data":{"name":"edgeLines"},"transform":[{"calculate":"1/(1+0.449*(datum.i+0.05)/0.9)","as":"s"},{"calculate":"39960+(datum.f-39960)*datum.s","as":"px"},{"calculate":"116.19+(datum.v-116.19)*datum.s","as":"py"}],"mark":{"type":"line","stroke":"#000000","strokeWidth":2.5},"encoding":{"x":{"field":"px","type":"quantitative","axis":null},"y":{"field":"py","type":"quantitative","axis":null},"detail":{"field":"id"}}},
{"data":{"name":"spectra"},"transform":[{"calculate":"1/(1+0.449*(datum.i+0.05)/0.9)","as":"s"},{"calculate":"39960+(datum.f-39960)*datum.s","as":"px"},{"calculate":"116.19+(datum.v-116.19)*datum.s","as":"py"},{"calculate":"116.19-116.19*datum.s","as":"py0"},{"calculate":"datum.i==0?'Non-blockage':'Longitudinal blockage intensity of '+datum.i","as":"name"}],"mark":{"type":"area","strokeWidth":1.5},
"encoding":{"x":{"field":"px","type":"quantitative","axis":{"orient":"bottom","offset":-333,"values":[0,4000,8000,12000,16000,20000],"format":",d","domain":false,"grid":false,"tickColor":"#000000","tickWidth":5.5,"tickSize":39,"tickCap":"round","labelFontSize":78,"labelColor":"#000000","labelFont":"Liberation Serif","labelPadding":28,"labelLimit":500,"labelFlush":false,"labelOverlap":false,"title":"Frequency/Hz","titleFont":"Liberation Serif","titleFontSize":87.5,"titleFontWeight":"bold","titleColor":"#000000","titleX":1301,"titleY":271,"titleBaseline":"middle","titleAlign":"center"}},
"y":{"field":"py","type":"quantitative","stack":null,"axis":{"orient":"left","offset":-295,"values":[0,5,10,15,20,25],"domain":false,"grid":false,"tickColor":"#000000","tickWidth":5.5,"tickSize":38,"tickCap":"round","labelFontSize":78,"labelColor":"#000000","labelFont":"Liberation Serif","labelPadding":27,"labelFlush":false,"labelOverlap":false,"title":"Sound pressure Level/dB","titleFont":"Liberation Serif","titleFontSize":88,"titleFontWeight":"bold","titleColor":"#000000","titleX":-207,"titleY":1682,"titleAngle":-90,"titleBaseline":"middle","titleAlign":"center"}},
"y2":{"field":"py0"},
"color":{"field":"name","type":"nominal","scale":{"domain":["Non-blockage","Longitudinal blockage intensity of 0.07","Longitudinal blockage intensity of 0.2","Longitudinal blockage intensity of 0.34","Longitudinal blockage intensity of 0.5","Longitudinal blockage intensity of 0.66","Longitudinal blockage intensity of 0.8"],"range":["#000000","#525252","#FF4040","#006FE6","#00AF69","#C278E2","#DC9900"]},"legend":{"orient":"none","legendX":25,"legendY":31,"title":null,"symbolType":"M-1,-0.5H1V0.5H-1Z","symbolSize":12769,"symbolStrokeWidth":0,"labelFontSize":56.8,"labelFont":"Liberation Serif","labelColor":"#000000","rowPadding":2,"clipHeight":69.7,"labelOffset":15,"values":["Non-blockage","Longitudinal blockage intensity of 0.07","Longitudinal blockage intensity of 0.2","Longitudinal blockage intensity of 0.34","Longitudinal blockage intensity of 0.5","Longitudinal blockage intensity of 0.66","Longitudinal blockage intensity of 0.8"],"labelLimit":1200}},
"stroke":{"field":"name","type":"nominal","legend":null,"scale":{"domain":["Non-blockage","Longitudinal blockage intensity of 0.07","Longitudinal blockage intensity of 0.2","Longitudinal blockage intensity of 0.34","Longitudinal blockage intensity of 0.5","Longitudinal blockage intensity of 0.66","Longitudinal blockage intensity of 0.8"],"range":["#000000","#525252","#FF4040","#006FE6","#00AF69","#C278E2","#DC9900"]}}}},
{"data":{"name":"axisLines"},"transform":[{"calculate":"1/(1+0.449*(datum.i+0.05)/0.9)","as":"s"},{"calculate":"39960+(datum.f-39960)*datum.s","as":"px"},{"calculate":"116.19+(datum.v-116.19)*datum.s","as":"py"}],"mark":{"type":"line","stroke":"#000000","strokeWidth":6,"strokeCap":"round"},"encoding":{"x":{"field":"px","type":"quantitative","axis":null},"y":{"field":"py","type":"quantitative","axis":null},"detail":{"field":"id"}}},
{"data":{"name":"depthLabels"},"transform":[{"calculate":"1/(1+0.449*(datum.i+0.05)/0.9)","as":"s"},{"calculate":"39960+(datum.f-39960)*datum.s","as":"px"},{"calculate":"116.19+(datum.v-116.19)*datum.s","as":"py"},{"calculate":"78*datum.s","as":"fs"}],"mark":{"type":"text","align":"left","baseline":"middle","font":"Liberation Serif","color":"#000000"},"encoding":{"x":{"field":"px","type":"quantitative","axis":null},"y":{"field":"py","type":"quantitative","axis":null},"text":{"field":"label"},"size":{"field":"fs","type":"quantitative","scale":null}}},
{"data":{"values":[{"t":"Longitudinal blockage intensity"}]},"mark":{"type":"text","angle":294,"align":"center","baseline":"middle","fontSize":83,"fontWeight":"bold","font":"Liberation Serif","color":"#000000"},"encoding":{"x":{"datum":25080,"type":"quantitative","axis":null},"y":{"datum":16.4,"type":"quantitative","axis":null},"text":{"field":"t"}}}
],
"resolve":{"axis":{"x":"independent","y":"independent"}}}
